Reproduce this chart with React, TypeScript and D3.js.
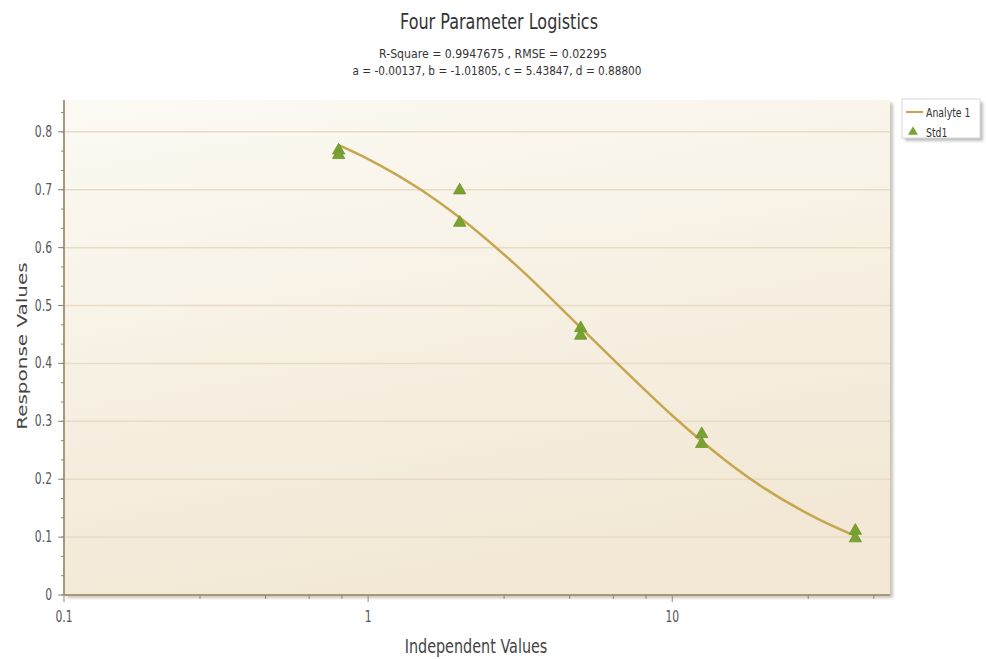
import React from "react";
import * as d3 from "d3";

// standards (measured points)
const stdX = [0.8, 0.8, 2, 2, 5, 5, 12.5, 12.5, 40, 40];
const stdY = [0.768, 0.76, 0.699, 0.643, 0.461, 0.448, 0.278, 0.261, 0.111, 0.098];

// fitted curve
const fitX = [0.8, 1, 1.5, 2, 3, 5, 7, 10, 15, 20, 30, 40];
const fitY = [0.777, 0.753, 0.699, 0.652, 0.574, 0.462, 0.387, 0.31, 0.232, 0.185, 0.132, 0.102];

const xMajorTicks = [0.1, 1, 10];
const xMinorTicks = [0.28, 0.46, 0.64, 0.82, 2.8, 4.6, 6.4, 8.2, 28, 46];
const yMajorTicks = [0, 0.1, 0.2, 0.3, 0.4, 0.5, 0.6, 0.7, 0.8];

const title = "Four Parameter Logistics";
const subtitle1 = "R-Square = 0.9947675 , RMSE = 0.02295";
const subtitle2 = "a = -0.00137, b = -1.01805, c = 5.43847, d = 0.88800";
const legendItems = ["Analyte 1", "Std1"];

const W = 986;
const H = 659;
const margin = { top: 100, right: 96, bottom: 64, left: 64 };
const SQ = 0.72; // horizontal squeeze of text
const FONT = "DejaVu Sans";

function SqText(props: any) {
  const { x, y, size, anchor = "start", fill = "#555", rotate = false, children } = props;
  const t = rotate
    ? `translate(${x},${y}) rotate(-90) scale(1,${SQ})`
    : `translate(${x},${y}) scale(${SQ},1)`;
  return (
    <text transform={t} fontSize={size} textAnchor={anchor} fill={fill} fontFamily={FONT}>
      {children}
    </text>
  );
}

// text stretched to a given width
function FitText(props: any) {
  const { x, y, size, len, fill = "#333", children } = props;
  return (
    <text
      x={x}
      y={y}
      fontSize={size}
      textAnchor="middle"
      textLength={len}
      lengthAdjust="spacingAndGlyphs"
      fill={fill}
      fontFamily={FONT}
    >
      {children}
    </text>
  );
}

export default function App() {
  const x0 = margin.left;
  const x1 = W - margin.right;
  const y0 = margin.top;
  const y1 = H - margin.bottom;

  const x = d3.scaleLog().domain([0.1, 52]).range([x0, x1]);
  const y = d3.scaleLinear().domain([0, 0.855]).range([y1, y0]);

  const yMinor = d3.range(0, 26).map((k) => k / 30);

  const line = d3
    .line<number>()
    .x((_, i) => x(fitX[i]))
    .y((d) => y(d))
    .curve(d3.curveMonotoneX);

  const tri = d3.symbol().type(d3.symbolTriangle).size(66)();

  return (
    <svg
      width={W}
      height={H}
      style={{ position: "absolute", left: 0, top: 0, background: "#fff" }}
    >
      <defs>
        <linearGradient id="bg" x1="0" y1="0" x2="0.3" y2="1">
          <stop offset="0%" stopColor="#fcfaf4" />
          <stop offset="100%" stopColor="#f2e8d5" />
        </linearGradient>
        <filter id="blur" x="-10%" y="-10%" width="130%" height="130%">
          <feGaussianBlur stdDeviation="1.5" />
        </filter>
      </defs>

      {/* titles */}
      <FitText x={499} y={29} size={21} len={198}>
        {title}
      </FitText>
      <FitText x={493} y={58} size={13} len={228}>
        {subtitle1}
      </FitText>
      <FitText x={497} y={75} size={13} len={289}>
        {subtitle2}
      </FitText>

      {/* plot shadow */}
      <rect x={x0 + 3} y={y0 + 3} width={x1 - x0} height={y1 - y0} fill="#c8c4bc" filter="url(#blur)" />
      <rect x={x0} y={y0} width={x1 - x0} height={y1 - y0} fill="url(#bg)" />

      {/* grid */}
      {yMajorTicks.slice(1).map((t) => (
        <line key={t} x1={x0} x2={x1} y1={y(t)} y2={y(t)} stroke="#e8dcc6" strokeWidth={1.5} />
      ))}

      {/* axes */}
      <line x1={x0} x2={x0} y1={y0} y2={y1} stroke="#a8997a" strokeWidth={2} />
      <line x1={x0} x2={x1} y1={y1} y2={y1} stroke="#a8997a" strokeWidth={2} />

      {yMinor.map((t) => (
        <line key={"ym" + t} x1={x0 - 3} x2={x0} y1={y(t)} y2={y(t)} stroke="#888" strokeWidth={1} />
      ))}
      {yMajorTicks.map((t) => (
        <g key={"y" + t}>
          <line x1={x0 - 6} x2={x0} y1={y(t)} y2={y(t)} stroke="#888" strokeWidth={1} />
          <SqText x={x0 - 12} y={y(t) + 5} size={15} anchor="end">
            {t === 0 ? "0" : d3.format(".1f")(t)}
          </SqText>
        </g>
      ))}

      {xMinorTicks.map((t) => (
        <line key={"xm" + t} x1={x(t)} x2={x(t)} y1={y1} y2={y1 + 4} stroke="#888" strokeWidth={1} />
      ))}
      {xMajorTicks.map((t) => (
        <g key={"x" + t}>
          <line x1={x(t)} x2={x(t)} y1={y1} y2={y1 + 7} stroke="#888" strokeWidth={1} />
          <SqText x={x(t)} y={y1 + 27} size={15} anchor="middle">
            {String(t)}
          </SqText>
        </g>
      ))}

      <SqText x={476} y={653} size={20} anchor="middle" fill="#444">
        Independent Values
      </SqText>
      <SqText x={27} y={y(0.43)} size={20} anchor="middle" fill="#444" rotate>
        Response Values
      </SqText>

      {/* fitted curve */}
      <path d={line(fitY) || ""} fill="none" stroke="#c6a64e" strokeWidth={2.5} />

      {/* standards */}
      {stdY.map((v, i) => (
        <path
          key={"s" + i}
          d={tri || ""}
          transform={`translate(${x(stdX[i])},${y(v)})`}
          fill="#78a332"
          stroke="#6a952a"
          strokeWidth={0.8}
        />
      ))}

      {/* legend */}
      <g>
        <rect x={905} y={102} width={78} height={39} fill="#bdbdbd" filter="url(#blur)" />
        <rect x={902} y={99} width={78} height={39} fill="#fff" stroke="#d8d8d8" />
        <line x1={906} x2={923} y1={112} y2={112} stroke="#c6a64e" strokeWidth={2} />
        <SqText x={926} y={117} size={13} fill="#333">
          {legendItems[0]}
        </SqText>
        <path d={tri || ""} transform="translate(913,132) scale(0.8)" fill="#78a332" />
        <SqText x={926} y={137} size={13} fill="#333">
          {legendItems[1]}
        </SqText>
      </g>
    </svg>
  );
}
